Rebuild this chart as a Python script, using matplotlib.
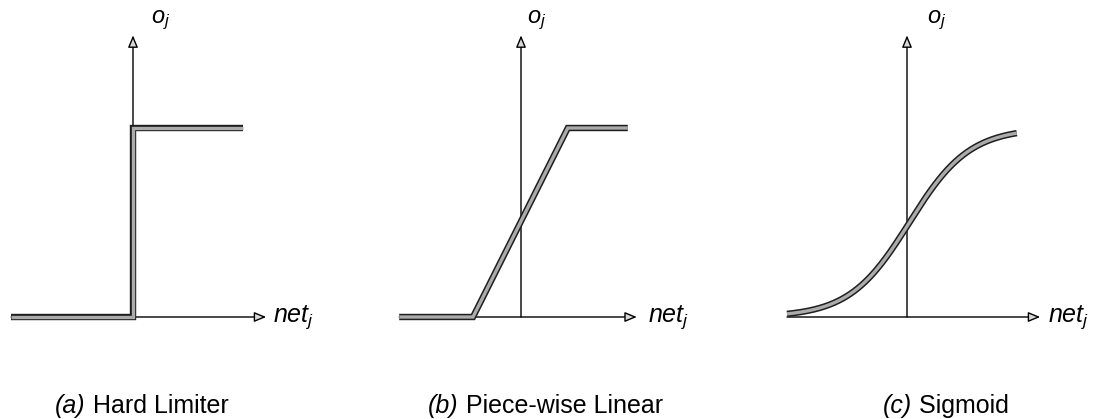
import numpy as np
import matplotlib
matplotlib.use("Agg")
import matplotlib.pyplot as plt
import matplotlib.patheffects as pe

plt.rcParams["font.family"] = ["Liberation Sans", "DejaVu Sans"]
plt.rcParams["mathtext.fontset"] = "custom"
plt.rcParams["mathtext.it"] = "Liberation Sans:italic"
plt.rcParams["mathtext.rm"] = "Liberation Sans"

# Activation function shapes (net input vs. output)
hard_net = [-2.03, 0.0, 0.0, 1.83]
hard_out = [0.0, 0.0, 1.0, 1.0]

pwl_net = [-2.03, -0.80, 0.78, 1.78]
pwl_out = [0.0, 0.0, 1.0, 1.0]

sig_range = (-2.0, 1.83)
sig_gain = 2.0
sig_mid = 0.04

panel_tags = ["(a)", "(b)", "(c)"]
panel_names = [" Hard Limiter", " Piece-wise Linear", " Sigmoid"]

W, H = 1098, 419
fig = plt.figure(figsize=(W / 100, H / 100), dpi=100)

PX_X = 60.0    # pixels per net unit
PX_Y = 189.0   # pixels per output unit
AXIS_Y = 317   # pixel row of the net axis

# panel spans: (left px, right px, y-axis px, arrow tip, o label x, net label x, caption x)
panels = [
    (0, 370, 133, 2.22, 0.30, 2.33, -1.30),
    (370, 740, 521, 1.93, 0.10, 2.12, -1.55),
    (740, 1098, 907, 2.22, 0.34, 2.35, -0.40),
]

sig_net = np.linspace(sig_range[0], sig_range[1], 300)
sig_out = 1.0 / (1.0 + np.exp(-sig_gain * (sig_net - sig_mid)))
curves = [(hard_net, hard_out), (pwl_net, pwl_out), (sig_net, sig_out)]

thick = [pe.Stroke(linewidth=4.6, foreground="#1e1e1e"),
         pe.Stroke(linewidth=2.4, foreground="#ababab")]

for i, (left, right, yax, tip, ox, nx, cx) in enumerate(panels):
    ax = fig.add_axes([left / W, 0, (right - left) / W, 1])
    ax.set_xlim(-(yax - left) / PX_X, (right - yax) / PX_X)
    ax.set_ylim(-(H - AXIS_Y) / PX_Y, AXIS_Y / PX_Y)
    ax.axis("off")

    xs, ys = curves[i]
    arrow = dict(arrowstyle="-|>,head_length=0.6,head_width=0.25",
                 mutation_scale=12, lw=1.0, fc="#d8d8d8", ec="black",
                 shrinkA=0, shrinkB=0)
    # net axis
    ax.annotate("", xy=(tip, 0), xytext=(xs[0], 0), arrowprops=arrow, zorder=1)
    # output axis
    ax.annotate("", xy=(0, 1.49), xytext=(0, 0), arrowprops=arrow, zorder=1)

    ln, = ax.plot(xs, ys, color="#ababab", lw=2.4, zorder=3,
                  solid_joinstyle="miter", solid_capstyle="butt")
    ln.set_path_effects(thick)

    ax.text(ox, 1.556, r"$o_j$", fontsize=17, ha="left", va="baseline")
    ax.text(nx, -0.027, r"$net_j$", fontsize=18, ha="left", va="baseline")

    tag = ax.text(cx, -0.508, panel_tags[i], fontsize=18, style="italic",
                  ha="left", va="baseline")
    ax.annotate(panel_names[i], xy=(1, -0.508), xycoords=(tag, "data"),
                fontsize=18, ha="left", va="baseline")

fig.savefig("out.png", dpi=100)
